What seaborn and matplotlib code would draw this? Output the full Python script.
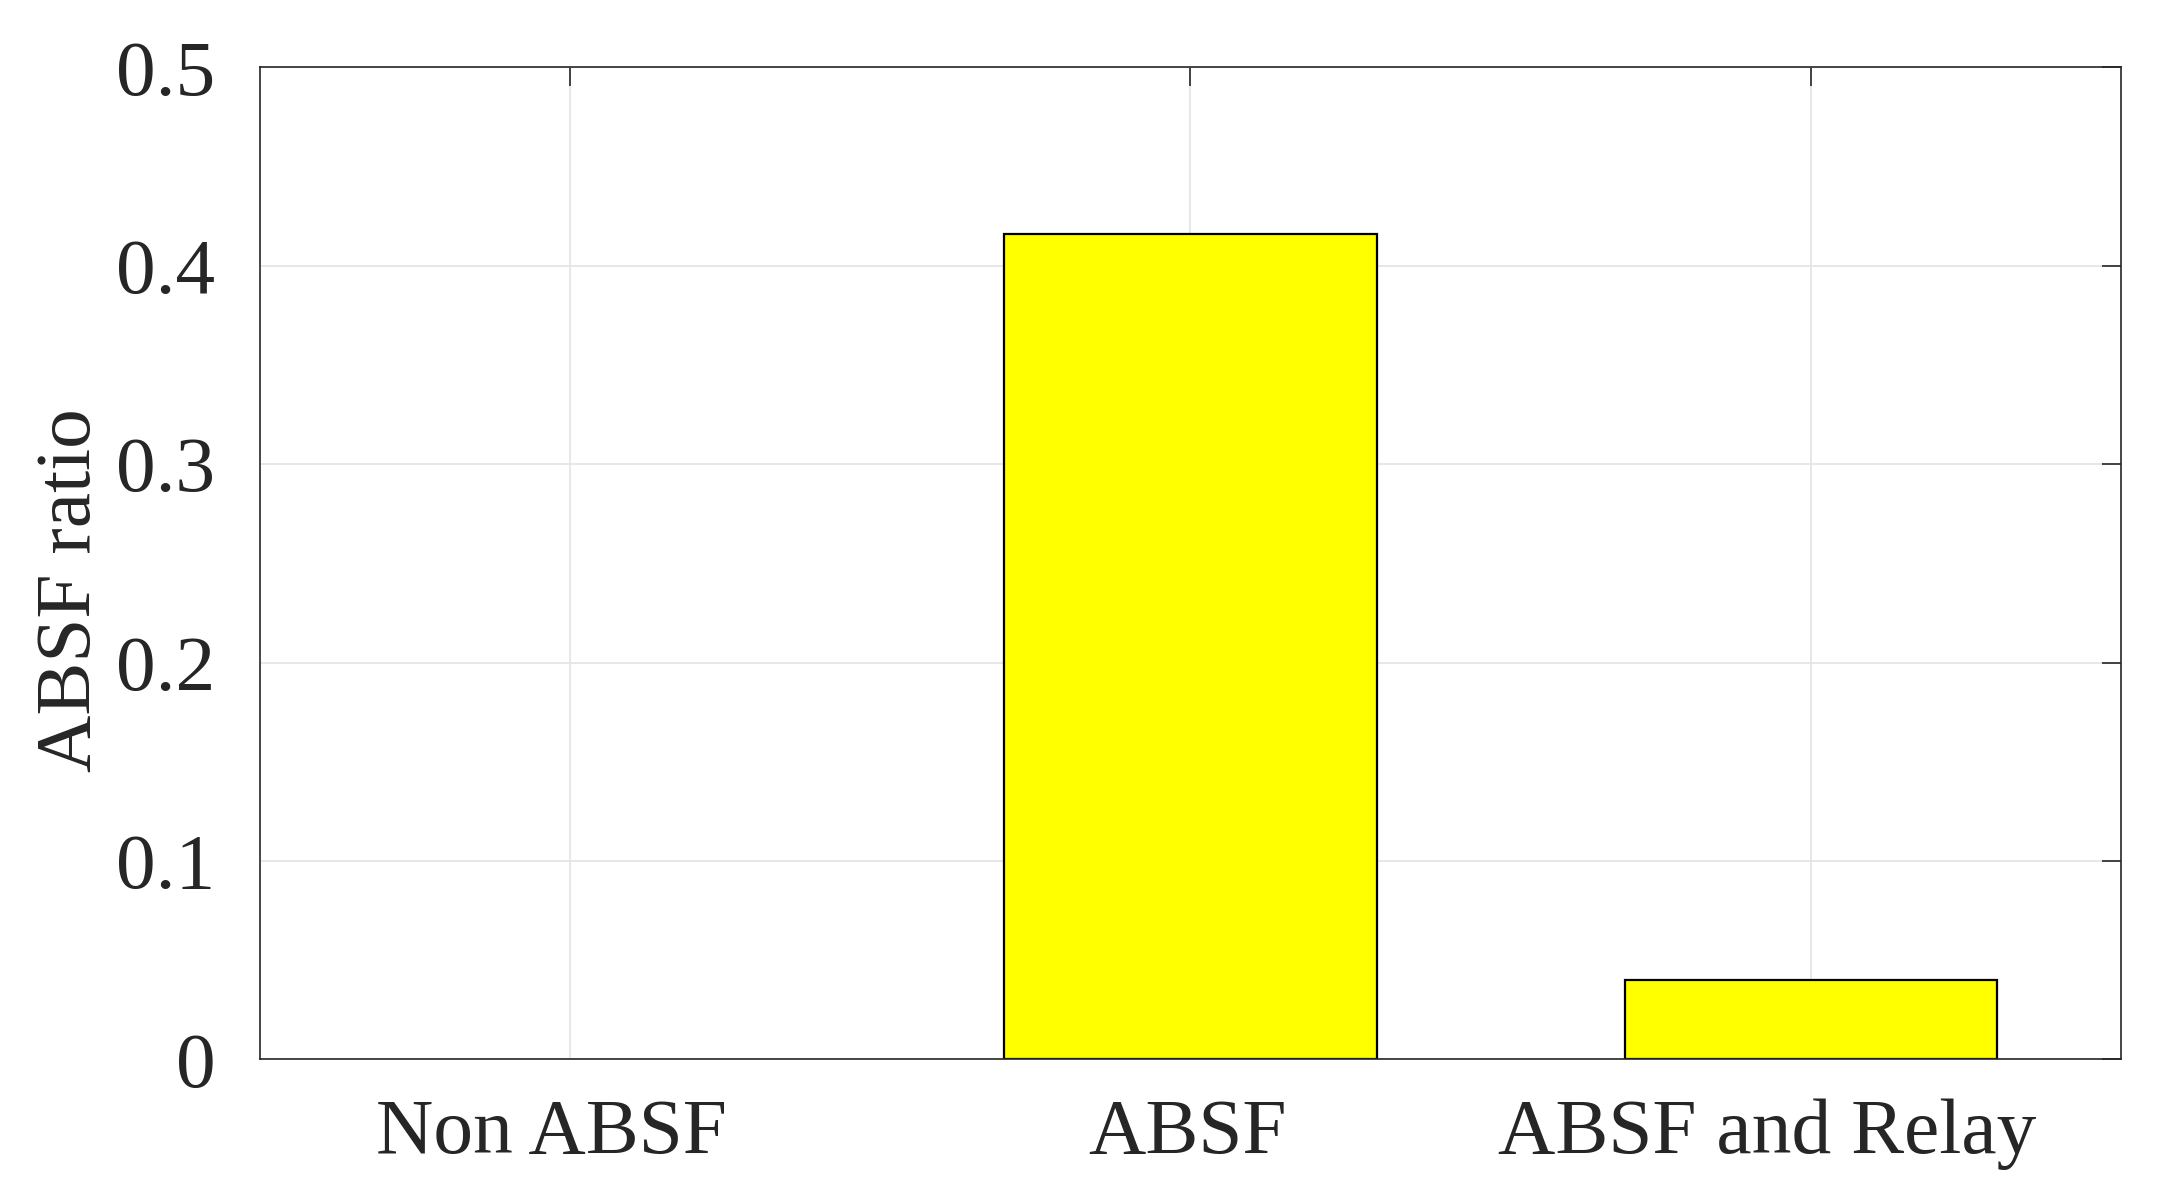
import pandas as pd
import matplotlib
matplotlib.use("Agg")
import matplotlib.pyplot as plt
import matplotlib.transforms as mtransforms
import seaborn as sns

# Data
categories = ["Non ABSF", "ABSF", "ABSF and Relay"]
ratios = [0.0, 0.416, 0.04]

df = pd.DataFrame({"Scheme": categories, "Ratio": ratios})

sns.set_style("white")
plt.rcParams["font.family"] = ["Liberation Serif", "DejaVu Serif"]
text_color = "#262626"

fig = plt.figure(figsize=(10.785, 5.98), dpi=200)
ax = fig.add_axes([0.1205, 0.1143, 0.8628, 0.8294])

sns.barplot(x="Scheme", y="Ratio", data=df, color="#ffff00", edgecolor="black",
            linewidth=0.8, width=0.6, saturation=1, ax=ax, zorder=3)

# a zero-height bar should not leave a stroke on the axis
for patch in ax.patches:
    if patch.get_height() == 0:
        patch.set_linewidth(0)

ax.set_xlim(-0.5, 2.5)
ax.set_ylim(0, 0.5)
ax.set_yticks([0, 0.1, 0.2, 0.3, 0.4, 0.5])
ax.set_yticklabels(["0", "0.1", "0.2", "0.3", "0.4", "0.5"])

ax.grid(True, color="#e3e3e3", linewidth=0.6, zorder=0)
ax.set_axisbelow(True)

for side in ["left", "right", "top", "bottom"]:
    ax.spines[side].set_visible(True)
    ax.spines[side].set_color(text_color)
    ax.spines[side].set_linewidth(0.6)
    ax.spines[side].set_zorder(4)

ax.tick_params(direction="in", length=7, width=0.6, colors=text_color,
               top=True, right=True, labelsize=28.6)
ax.tick_params(axis="x", pad=14)
ax.tick_params(axis="y", pad=16)
ax.set_xlabel("")
ax.set_ylabel("ABSF ratio", fontsize=28.6, color=text_color)
ax.yaxis.set_label_coords(-0.082, 0.473)

# the original x labels sit a little left of their ticks
shifts = [-0.095, -0.015, -0.22]  # inches
for label, dx in zip(ax.get_xticklabels(), shifts):
    label.set_transform(label.get_transform() +
                        mtransforms.ScaledTranslation(dx, 0, fig.dpi_scale_trans))

fig.savefig("out.png", dpi=200)
